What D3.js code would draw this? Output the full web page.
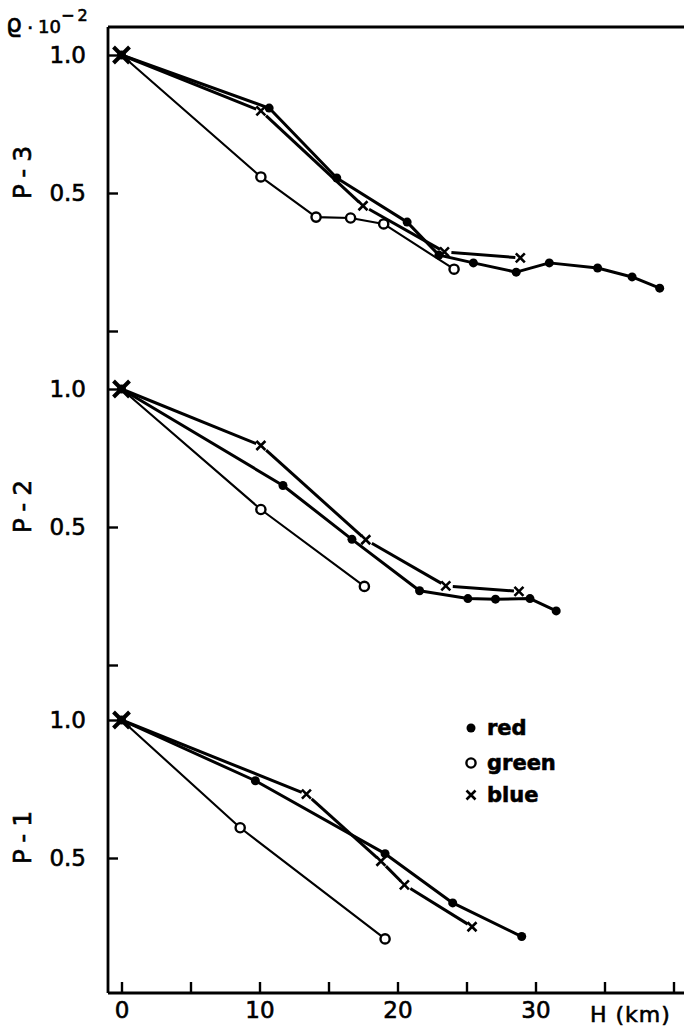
<!DOCTYPE html>
<html>
<head>
<meta charset="utf-8">
<script src="https://cdn.jsdelivr.net/npm/d3@7"></script>
<style>
  body { margin: 0; background: #fff; }
  svg { display: block; }
  text { fill: #000; stroke: #000; stroke-width: 0.6px; }
</style>
</head>
<body>
<div id="chart"></div>
<script>
// panels, top to bottom
const panels = ["P-3", "P-2", "P-1"];

// H (km) and relative values
const redH = [
  [0, 10.7, 15.6, 20.7, 23.0, 25.5, 28.6, 31.0, 34.5, 37.0, 39.0],
  [0, 11.7, 16.7, 21.6, 25.1, 27.1, 29.6, 31.5],
  [0, 9.7, 19.1, 24.0, 29.0]
];
const redV = [
  [1, 0.766, 0.539, 0.432, 0.366, 0.352, 0.336, 0.352, 0.343, 0.328, 0.310],
  [1, 0.616, 0.470, 0.363, 0.349, 0.348, 0.349, 0.328],
  [1, 0.737, 0.511, 0.399, 0.337]
];
const greenH = [
  [0, 10.1, 14.1, 16.6, 19.0, 24.1],
  [0, 10.1, 17.6],
  [0, 8.6, 19.1]
];
const greenV = [
  [1, 0.542, 0.443, 0.441, 0.428, 0.341],
  [1, 0.546, 0.371],
  [1, 0.582, 0.333]
];
const blueH = [
  [0, 10.1, 17.5, 23.4, 28.9],
  [0, 10.1, 17.7, 23.5, 28.8],
  [0, 13.4, 18.8, 20.5, 25.4]
];
const blueV = [
  [1, 0.755, 0.469, 0.372, 0.361],
  [1, 0.753, 0.469, 0.372, 0.362],
  [1, 0.689, 0.492, 0.437, 0.354]
];

const xTicks = [0, 5, 10, 15, 20, 25, 30, 35, 40];
const xLabels = [0, 10, 20, 30];
const yTicks = [1, 0.5, 0.25];
const legendItems = ["red", "green", "blue"];

const width = 684, height = 1026;
const axisX = 108, axisY = 993, frameTop = 27;
const panelTop = [55, 389, 720];   // pixel row of 1.0 in each panel
const octave = 138;                // pixels per halving
const font = "'DejaVu Sans', sans-serif";

const svg = d3.select("#chart").append("svg")
    .attr("width", width)
    .attr("height", height)
    .attr("viewBox", [0, 0, width, height])
    .style("font-family", font);

const x = d3.scaleLinear().domain([0, 40]).range([121.5, 121.5 + 40 * 13.8]);

const yScales = panelTop.map(t => d3.scaleLog().base(2)
    .domain([0.25, 1]).range([t + 2 * octave, t]));

// frame: top line, left axis, bottom axis
svg.append("line")
    .attr("x1", axisX).attr("x2", width)
    .attr("y1", frameTop).attr("y2", frameTop)
    .attr("stroke", "#000").attr("stroke-width", 2.8);
svg.append("line")
    .attr("x1", axisX).attr("x2", axisX)
    .attr("y1", frameTop).attr("y2", axisY)
    .attr("stroke", "#000").attr("stroke-width", 2.8);
svg.append("line")
    .attr("x1", axisX).attr("x2", width)
    .attr("y1", axisY).attr("y2", axisY)
    .attr("stroke", "#000").attr("stroke-width", 2.8);

// x axis
svg.append("g")
    .attr("transform", `translate(0,${axisY})`)
    .call(d3.axisBottom(x).tickValues(xTicks)
        .tickSizeInner(-11).tickSizeOuter(0).tickPadding(9)
        .tickFormat(d => xLabels.includes(d) ? d : ""))
    .call(g => g.select(".domain").remove())
    .call(g => g.selectAll(".tick line").attr("stroke-width", 2.4))
    .call(g => g.selectAll(".tick text")
        .attr("font-family", font).attr("font-size", 23));

svg.append("text")
    .attr("x", 590).attr("y", 1022)
    .attr("font-size", 22)
    .attr("letter-spacing", 1)
    .text("H (km)");

// y axes, one per panel
yScales.forEach((y, i) => {
  svg.append("g")
      .attr("transform", `translate(${axisX},0)`)
      .call(d3.axisLeft(y).tickValues(i === 2 ? [1, 0.5] : yTicks)
          .tickSizeInner(-10).tickSizeOuter(0).tickPadding(22)
          .tickFormat(d => d === 0.25 ? "" : d3.format(".1f")(d)))
      .call(g => g.select(".domain").remove())
      .call(g => g.selectAll(".tick line").attr("stroke-width", 2.4))
      .call(g => g.selectAll(".tick text")
          .attr("font-family", font).attr("font-size", 23));

  svg.append("text")
      .attr("transform", `translate(31,${y(0.5) - 24}) rotate(-90)`)
      .attr("text-anchor", "middle")
      .attr("font-size", 25)
      .attr("letter-spacing", 7)
      .text(panels[i]);
});

// y label
svg.append("text").attr("x", 6).attr("y", 32).attr("font-size", 25).text("ϱ");
svg.append("text").attr("x", 27).attr("y", 35).attr("font-size", 20).text("·");
svg.append("text").attr("x", 38).attr("y", 33).attr("font-size", 18).text("10");
svg.append("text").attr("x", 61).attr("y", 21).attr("font-size", 16)
    .attr("letter-spacing", 3).text("−2");

// lines and markers
const line = d3.line();

function drawSeries(H, V, y, lw, marker) {
  const pts = H.map((h, j) => [x(h), y(V[j])]);
  svg.append("path")
      .attr("d", line(pts))
      .attr("fill", "none")
      .attr("stroke", "#000")
      .attr("stroke-width", lw)
      .attr("stroke-linejoin", "round");
  pts.slice(1).forEach(p => marker(p));
}

function dot(p) {
  svg.append("circle").attr("cx", p[0]).attr("cy", p[1]).attr("r", 4.5).attr("fill", "#000");
}
function ring(p) {
  svg.append("circle").attr("cx", p[0]).attr("cy", p[1]).attr("r", 4.6)
      .attr("fill", "#fff").attr("stroke", "#000").attr("stroke-width", 2.4);
}
function cross(p, s = 4.5, w = 2.6) {
  svg.append("path")
      .attr("d", `M${p[0] - s},${p[1] - s}L${p[0] + s},${p[1] + s}M${p[0] - s},${p[1] + s}L${p[0] + s},${p[1] - s}`)
      .attr("stroke", "#000").attr("stroke-width", w);
}

// blue lines are drawn as separate segments, cut short near the crosses
function drawBlue(H, V, y) {
  const pts = H.map((h, j) => [x(h), y(V[j])]);
  for (let j = 0; j < pts.length - 1; j++) {
    const [a, b] = [pts[j], pts[j + 1]];
    const len = Math.hypot(b[0] - a[0], b[1] - a[1]);
    const ux = (b[0] - a[0]) / len, uy = (b[1] - a[1]) / len;
    const s = j === 0 ? 0 : 7, e = 5;
    svg.append("line")
        .attr("x1", a[0] + ux * s).attr("y1", a[1] + uy * s)
        .attr("x2", b[0] - ux * e).attr("y2", b[1] - uy * e)
        .attr("stroke", "#000").attr("stroke-width", 3);
  }
  pts.slice(1).forEach(p => cross(p));
}

yScales.forEach((y, i) => {
  drawSeries(greenH[i], greenV[i], y, 2.1, ring);
  drawSeries(redH[i], redV[i], y, 3, dot);
  drawBlue(blueH[i], blueV[i], y);
  // common starting point
  cross([x(0), y(1)], 8, 4);
  dot([x(0), y(1)]);
});

// legend
const lg = svg.append("g").attr("transform", "translate(471,0)");
const markers = [dot, ring, cross];
const legendY = [728, 763, 795];
legendItems.forEach((d, i) => {
  markers[i]([471, legendY[i]]);
  lg.append("text")
      .attr("x", 16).attr("y", legendY[i])
      .attr("dy", "0.32em")
      .attr("font-size", 21)
      .attr("font-weight", "bold")
      .text(d);
});
</script>
</body>
</html>
